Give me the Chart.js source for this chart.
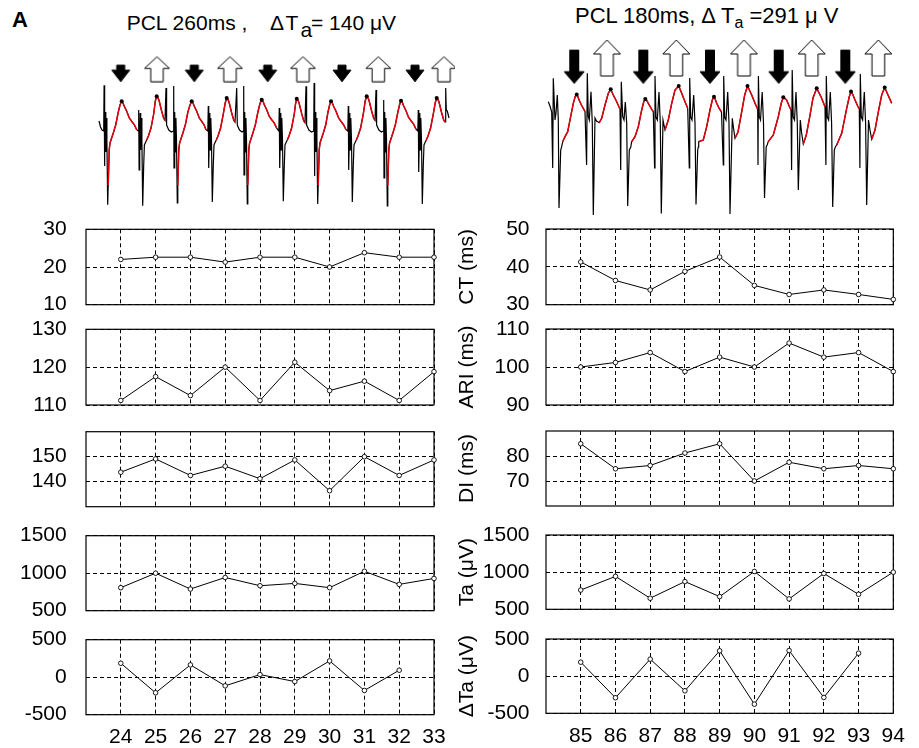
<!DOCTYPE html>
<html><head><meta charset="utf-8">
<script src="https://cdn.jsdelivr.net/npm/chart.js@4.4.0/dist/chart.umd.min.js"></script>
<style>
html,body{margin:0;padding:0;background:#fff;}
body{width:919px;height:748px;position:relative;overflow:hidden;font-family:"Liberation Sans",Arial,sans-serif;color:#000;}
canvas{position:absolute;}
.t{position:absolute;white-space:pre;font-size:21px;line-height:21px;}
</style></head><body>
<div class="t" style="left:12px;top:8.6px;font-weight:bold;font-size:22px;">A</div>
<div class="t" style="left:126.7px;top:12.2px;">PCL 260ms ,</div>
<div class="t" style="left:270px;top:12.2px;letter-spacing:1.5px;">ΔT</div>
<div class="t" style="left:300.5px;top:18.9px;">a</div>
<div class="t" style="left:311px;top:12.2px;">= 140 μV</div>
<div class="t" style="left:575px;top:4.7px;font-size:22px;line-height:22px;">PCL 180ms, Δ T<span style="font-size:16px;position:relative;top:5px;">a</span> =291 μ V</div>
<script>
// ---------- data ----------
const beatsLeft  = [24, 25, 26, 27, 28, 29, 30, 31, 32, 33];
const beatsRight = [85, 86, 87, 88, 89, 90, 91, 92, 93, 94];

const ctLeft  = [22, 22.6, 22.6, 21.3, 22.6, 22.6, 20, 23.8, 22.6, 22.6];
const ariLeft = [111.2, 117.5, 112.5, 120, 111.2, 121.3, 113.8, 116.3, 111.2, 118.8];
const diLeft  = [143.8, 149.1, 142.5, 146.2, 141.2, 148.7, 136.4, 150, 142.5, 148.7];
const taLeft  = [807, 1000, 789, 943, 833, 864, 807, 1026, 851, 930];
const dtaLeft = [186, -208, 164, -115, 35, -58, 217, -177, 93];

const ctRight  = [41.3, 36.4, 33.9, 38.8, 42.6, 35.1, 32.7, 33.9, 32.7, 31.4];
const ariRight = [100, 101.2, 103.8, 98.8, 102.6, 100, 106.3, 102.6, 103.8, 98.8];
const diRight  = [84.9, 74.9, 76.2, 81.2, 84.9, 70, 77.5, 74.9, 76.2, 74.9];
const taRight  = [759, 943, 649, 873, 671, 1009, 640, 982, 702, 1000];
const dtaRight = [188, -291, 229, -197, 341, -377, 345, -287, 309];

const ticksCtLeft = [10, 20, 30], ticksAriLeft = [110, 120, 130], ticksDiLeft = [140, 150];
const ticksCtRight = [30, 40, 50], ticksAriRight = [90, 100, 110], ticksDiRight = [70, 80];
const ticksTa = [500, 1000, 1500], ticksDta = [-500, 0, 500];
const titlesRight = ['CT (ms)', 'ARI (ms)', 'DI (ms)', 'Ta (μV)', 'ΔTa (μV)'];

// electrogram traces: [sample, amplitude, flag] flag 1 = T wave (red), 2 = T peak
const ecgLeft = [
[0,29,0],[1.5,23,0],[3,20,0],
[4.7,19,0],[5.1,64.7,0],[5.4,-16,0],[5.9,10,0],[6.3,38,0],[6.8,-2,0],[7.3,32,0],[7.9,10,0],[8.7,-54.7,0],
[9.2,-35,1],[10.2,0,1],[11,7,1],[12,10,1],[14.3,17,1],[16.7,25,1],[19.3,38,1],[21,45,1],[22.7,48.7,2],[24,47,1],[25.3,43.7,1],[27.7,38.7,1],[30.3,32,1],[32.7,28.7,1],[35.3,25.3,1],[37.7,20.3,1],
[39.2,19,0],[39.7,40,0],[40.1,-20,0],[40.7,10,0],[41.2,37,0],[41.7,0,0],[42.2,32,0],[42.9,10,0],[43.7,-55.7,0],[44.7,-15,0],[45.4,5,0],[46.7,8,0],
[47.7,10,1],[49.4,14,1],[52,22,1],[54.7,36,1],[56.3,49,1],[57.7,53.7,2],[59,52,1],[60,49.7,1],[62.7,38.7,1],[64.7,31.7,1],[66,29.7,1],
[67,62,0],[67.6,25,0],[69.8,20,0],[72.3,18,0],
[74.3,19,0],[74.7,64,0],[75,-18,0],[75.5,10,0],[75.9,38,0],[76.4,-2,0],[76.9,32,0],[77.5,10,0],[78.3,-53,0],
[78.8,-35,1],[79.8,0,1],[80.6,7,1],[81.6,10,1],[83.9,17,1],[86.3,25,1],[88.9,38,1],[91,45,1],[92.7,48.7,2],[94,47,1],[95.3,43.7,1],[97.7,38.7,1],[100.3,32,1],[102.7,28.7,1],[105,25.3,1],[107,20.3,1],
[108.8,19,0],[109.3,44,0],[109.7,-18,0],[110.3,10,0],[110.8,37,0],[111.3,0,0],[111.8,32,0],[112.5,10,0],[113.3,-52,0],[114.3,-15,0],[115,5,0],[116.3,8,0],
[117.3,10,1],[119,14,1],[121.6,22,1],[124.3,36,1],[126.2,47,1],[127.7,52,2],[129,50.5,1],[130,48,1],[132.7,37,1],[134.7,30,1],[136,28,1],
[137.7,62,0],[138.3,25,0],[140.5,20,0],[143,18,0],
[144.3,19,0],[144.7,64,0],[145,-25,0],[145.5,10,0],[145.9,38,0],[146.4,-2,0],[146.9,32,0],[147.5,10,0],[148.3,-54,0],
[148.8,-35,1],[149.8,0,1],[150.6,7,1],[151.6,10,1],[153.9,17,1],[156.3,25,1],[158.9,38,1],[161,46.5,1],[162.7,50.3,2],[164,48.6,1],[165.3,45.3,1],[167.7,40.3,1],[170.3,33.6,1],[172.7,30.3,1],[175.3,26.9,1],[177.7,21.9,1],
[179.8,19,0],[180.3,42,0],[180.7,-18,0],[181.3,10,0],[181.8,37,0],[182.3,0,0],[182.8,32,0],[183.5,10,0],[184.3,-51.3,0],[185.3,-15,0],[186,5,0],[187.3,8,0],
[188.3,10,1],[190,14,1],[192.6,22,1],[195.3,36,1],[196.5,46,1],[197.7,51.3,2],[199,49.8,1],[200,47.3,1],[202.7,36.3,1],[204.7,29.3,1],[206,27.3,1],
[207,63.7,0],[207.6,25,0],[209.9,20,0],[212.4,18,0],
[214.7,19,0],[215.1,67,0],[215.4,-26,0],[215.9,10,0],[216.3,38,0],[216.8,-2,0],[217.3,32,0],[217.9,10,0],[218.7,-54,0],
[219.2,-35,1],[220.2,0,1],[221,7,1],[222,10,1],[224.3,17,1],[226.7,25,1],[229,38,1],[230.6,45,1],[232,48.7,2],[233.3,47,1],[234.6,43.7,1],[237,38.7,1],[239.6,32,1],[242,28.7,1],[244.6,25.3,1],[247,20.3,1],
[248.8,19,0],[249.3,44,0],[249.7,-20,0],[250.3,10,0],[250.8,37,0],[251.3,0,0],[251.8,32,0],[252.5,10,0],[253.3,-52,0],[254.3,-15,0],[255,5,0],[256.3,8,0],
[257.3,10,1],[259,14,1],[261.6,22,1],[264.3,36,1],[266.2,49,1],[267.7,53.7,2],[269,52,1],[270,49.7,1],[272.7,38.7,1],[274.7,31.7,1],[276,29.7,1],
[277,60,0],[277.6,25,0],[279.9,20,0],[282.4,18,0],
[284.3,19,0],[284.7,50,0],[285,-28,0],[285.5,10,0],[285.9,38,0],[286.4,-2,0],[286.9,32,0],[287.5,10,0],[288.3,-56,0],
[288.8,-35,1],[289.8,0,1],[290.6,7,1],[291.6,10,1],[293.9,17,1],[296.3,25,1],[298.9,38,1],[300.6,45.5,1],[302,49.3,2],[303.3,47.6,1],[304.6,44.3,1],[307,39.3,1],[309.6,32.6,1],[312,29.3,1],[314.6,25.9,1],[317,20.9,1],
[318.8,19,0],[319.3,40,0],[319.7,-22,0],[320.3,10,0],[320.8,37,0],[321.3,0,0],[321.8,32,0],[322.5,10,0],[323.3,-54,0],[324.3,-15,0],[325,5,0],[326.3,8,0],
[327.3,10,1],[329,14,1],[331.6,22,1],[334.3,36,1],[336.2,47,1],[337.7,52,2],[339,50.5,1],[340,48,1],[342.7,37,1],[344.7,30,1],[346,28,1],
[346.7,62,0],[347.3,40,0],[348.3,39,0],[350,32,0]
];

const ecgRight = [
[0.3,48.3,0],[2,44,0],[3.7,38,0],
[4.7,-18,0],[5.3,71.7,0],[7,30,0],[8,36.7,0],[9.3,55,0],[10.3,30,0],[11,-58,0],
[12.7,0,0],[13.7,3.3,0],[14.7,8.3,1],[17,13.3,1],[19.7,18.3,1],[22,30,1],[25.3,46.7,1],[27.2,53.5,1],[28.7,55.5,2],[30,53,1],[31.3,49.5,1],[33.7,44.5,1],[37,38.5,1],
[38.6,-15,0],[39.3,76.7,0],[40.3,33.3,0],[41.3,30,0],[43,58.3,0],[44.3,26.7,0],[45.3,-65,0],
[47,32,0],[48.5,29,0],[51.3,27.3,1],[53.7,31.7,1],[57,45,1],[60.3,56.7,1],[62.7,60.7,2],[65.3,55,1],[68.7,48.3,1],[72,40.7,1],
[72.7,-20,0],[73.3,68.3,0],[74.7,33.3,0],[76,30,0],[77.3,48,0],[78.7,26.7,0],[79.7,-56,0],
[81.3,0,0],[82.7,2.7,0],[83.7,8.3,1],[87,13.3,1],[90.3,23.3,1],[93.7,40,1],[95.8,48.5,1],[97.3,51,2],[98.8,49.5,1],[100.3,46.7,1],[103.7,40.7,1],[105.3,38.3,1],
[106.6,-18,0],[107,74,0],[108,33,0],[109.3,30,0],[111,58,0],[112.3,26.7,0],[113.3,-63.5,0],
[115,30,0],[116,25,0],[117,20,1],[120.3,30,1],[123.7,46.7,1],[127,60,1],[130.7,64,2],[133.7,56.7,1],[137,48.3,1],[139.7,41.7,1],
[141.3,-18,0],[141.7,72,0],[142.7,33,0],[144,30,0],[145.7,55,0],[147,26.7,0],[148,-54.5,0],
[149.7,0,0],[150.3,3,0],[150.7,8.3,1],[155.3,10,1],[158.7,23.3,1],[162,40,1],[164.3,50,1],[166,53.3,2],[167.3,50.5,1],[168.6,47,1],[171,42,1],[173.5,38,1],
[175.3,-15,0],[175.7,74,0],[176.7,33,0],[178,30,0],[179.7,58,0],[181,26.7,0],[182,-64,0],
[184.3,31.7,0],[185.5,22,0],[187,11.7,1],[190,18,1],[193.3,36,1],[196.7,55,1],[199.5,64,2],[203.7,55,1],[207,46.7,1],[209.7,40.7,1],
[210,-15,0],[210.4,74,0],[211.3,33,0],[212.5,30,0],[214.2,58,0],[215.5,26.7,0],[216.5,-48,0],
[218.2,3.3,0],[219.2,5,0],[220.2,8.3,1],[225.3,15,1],[230.3,33.3,1],[233.3,47,1],[235.3,52.7,2],[238.6,50,1],[241.5,43.3,1],[243,40,1],
[243.6,-20,0],[244.2,80,0],[245.2,33,0],[246.5,30,0],[248,58,0],[249.3,26.7,0],[250.3,-40,0],
[252.3,30,0],[253.5,18,0],[255.3,6,1],[258.3,15,1],[261.7,33,1],[265,52,1],[268.7,61.7,2],[273,53.3,1],[277,43.3,1],
[277.9,-15,0],[278.3,74,0],[279.3,33,0],[280.6,30,0],[282.3,58,0],[283.6,26.7,0],[284.7,-57,0],
[286.3,0,0],[287.3,3,0],[288.7,5,1],[293.7,16.7,1],[298.7,41.7,1],[301.2,53,1],[303,58.5,2],[305,55,1],[307,50,1],[310,43.3,1],[311.3,41,1],
[311.9,-18,0],[312.3,76,0],[313.3,33,0],[314.6,30,0],[316.3,58,0],[317.6,26.7,0],[318.7,-55,0],
[320.5,30,0],[322,20,0],[323.7,10.7,1],[327,20,1],[330.3,38,1],[333.7,55,1],[336.7,62.5,2],[340,55,1],[343.7,46.7,1]
];

// T-wave markers (sample positions): down = small T, up = large T
const arrowsDownLeft  = [21.7, 95.3, 168.7, 243, 316];
const arrowsUpLeft    = [58, 131, 204, 279.3, 345];
const arrowsDownRight = [26.2, 95.3, 162, 230.7, 297.3];
const arrowsUpRight   = [59, 128.3, 196, 263.7, 330.3];

// ---------- drawing ----------
Chart.defaults.font.family = '"Liberation Sans", Arial, sans-serif';
Chart.defaults.color = '#000';
Chart.defaults.animation = false;

const framePlugin = {
  id: 'frame',
  beforeDatasetsDraw(chart) {
    const {ctx, chartArea: a} = chart;
    ctx.save();
    ctx.setLineDash([]);
    ctx.strokeStyle = '#000';
    ctx.lineWidth = 1.2;
    ctx.strokeRect(a.left, a.top, a.right - a.left, a.bottom - a.top);
    ctx.restore();
  }
};

function makeCanvas(left, top, w, h) {
  const c = document.createElement('canvas');
  c.width = w; c.height = h;
  c.style.left = left + 'px'; c.style.top = top + 'px';
  c.style.width = w + 'px'; c.style.height = h + 'px';
  document.body.appendChild(c);
  return c;
}

function panel(cfg) {
  const cTop = Math.floor(cfg.plotTop) - 14;
  const cH = cfg.bottom ? 748 - cTop : Math.ceil(cfg.plotTop + cfg.plotH) + 14 - cTop;
  const cv = makeCanvas(cfg.cLeft, cTop, cfg.cW, cH);
  const xAxisH = cTop + cH - (cfg.plotTop + cfg.plotH);
  new Chart(cv, {
    type: 'line',
    data: { datasets: [{
      data: cfg.ys.map((y, i) => ({x: cfg.xs[i], y})),
      borderColor: '#000', borderWidth: 1, tension: 0, clip: false,
      pointRadius: 2.3, pointBorderWidth: 0.9, pointBackgroundColor: '#fff', pointBorderColor: '#000'
    }]},
    options: {
      responsive: false, devicePixelRatio: 1, animation: false,
      layout: { autoPadding: false, padding: { left: 0, bottom: 0,
        top: cfg.plotTop - cTop, right: cfg.cLeft + cfg.cW - (cfg.plotLeft + cfg.plotW) } },
      plugins: { legend: {display: false}, tooltip: {enabled: false} },
      scales: {
        x: {
          type: 'linear', min: cfg.xs[0] - 1, max: cfg.xs[cfg.xs.length - 1],
          afterBuildTicks(s) { s.ticks = cfg.xs.map(v => ({value: v})); },
          afterFit(s) { s.height = xAxisH; },
          grid: { color: '#000', lineWidth: 1, drawTicks: false },
          border: { display: false, dash: [4, 3] },
          ticks: { display: !!cfg.bottom, padding: 10, font: {size: 21}, color: '#000',
                   autoSkip: false, maxRotation: 0, callback: v => String(v) }
        },
        y: {
          min: cfg.yMin, max: cfg.yMax,
          afterBuildTicks(s) { s.ticks = cfg.yTicks.map(v => ({value: v})); },
          afterFit(s) { s.width = cfg.plotLeft - cfg.cLeft; },
          grid: { color: '#000', lineWidth: 1, drawTicks: true, tickLength: cfg.tickPad,
                  tickColor: 'rgba(0,0,0,0)' },
          border: { display: false, dash: [4, 3] },
          ticks: { padding: 0, font: {size: 21}, color: '#000', callback: v => String(v) },
          title: { display: !!cfg.title, text: cfg.title || '', font: {size: 21}, color: '#000',
                   padding: {top: 0, bottom: 0} }
        }
      }
    },
    plugins: [framePlugin]
  });
}

const leftRows  = [[229.3, 75.4], [329.3, 75.7], [431.7, 75], [535.7, 75], [639.7, 75]];
const rightRows = [[229, 75.7], [329, 76], [431, 75], [535, 74.3], [639, 74.3]];
const leftSeries = [
  [ctLeft, 10, 30, ticksCtLeft], [ariLeft, 110, 130, ticksAriLeft], [diLeft, 130, 160, ticksDiLeft],
  [taLeft, 500, 1500, ticksTa], [dtaLeft, -500, 500, ticksDta]];
const rightSeries = [
  [ctRight, 30, 50, ticksCtRight], [ariRight, 90, 110, ticksAriRight], [diRight, 60, 90, ticksDiRight],
  [taRight, 500, 1500, ticksTa], [dtaRight, -500, 500, ticksDta]];

leftSeries.forEach((s, i) => panel({
  cLeft: 0, cW: 460, plotLeft: 86, plotW: 348, plotTop: leftRows[i][0], plotH: leftRows[i][1],
  xs: beatsLeft, ys: s[0], yMin: s[1], yMax: s[2], yTicks: s[3], tickPad: 19.3, bottom: i === 4
}));
rightSeries.forEach((s, i) => panel({
  cLeft: 455, cW: 464, plotLeft: 546, plotW: 347.3, plotTop: rightRows[i][0], plotH: rightRows[i][1],
  xs: beatsRight, ys: s[0], yMin: s[1], yMax: s[2], yTicks: s[3], tickPad: 16.5, bottom: i === 4,
  title: titlesRight[i]
}));

function arrowImg(w, h, shaftW, headH, dir, fill) {
  const c = document.createElement('canvas');
  c.width = Math.ceil(w + 2); c.height = Math.ceil(h + 2);
  const g = c.getContext('2d');
  g.translate((c.width - w) / 2, (c.height - h) / 2);
  const cx = w / 2, s = shaftW / 2;
  g.beginPath();
  if (dir === 'down') {
    g.moveTo(cx - s, 0); g.lineTo(cx + s, 0); g.lineTo(cx + s, h - headH); g.lineTo(w, h - headH);
    g.lineTo(cx, h); g.lineTo(0, h - headH); g.lineTo(cx - s, h - headH);
  } else {
    g.moveTo(cx, 0); g.lineTo(w, headH); g.lineTo(cx + s, headH); g.lineTo(cx + s, h);
    g.lineTo(cx - s, h); g.lineTo(cx - s, headH); g.lineTo(0, headH);
  }
  g.closePath();
  g.fillStyle = fill; g.fill();
  g.lineWidth = 1; g.strokeStyle = '#000'; g.stroke();
  return c;
}

function ecg(cfg) {
  const cv = makeCanvas(cfg.left, 36, 360, 184);
  const pts = cfg.trace;
  new Chart(cv, {
    type: 'line',
    data: { datasets: [
      { data: pts.map(p => ({x: p[0], y: p[1]})), borderColor: '#000', borderWidth: 1.2,
        pointRadius: 0, clip: false, tension: 0, order: 3 },
      { data: pts.map(p => ({x: p[0], y: p[2] ? p[1] : null})), borderColor: '#e3000f', borderWidth: 1.5,
        pointRadius: 0, clip: false, tension: 0, spanGaps: false, order: 2 },
      { data: pts.filter(p => p[2] === 2).map(p => ({x: p[0], y: p[1]})), showLine: false,
        pointRadius: 2, pointBackgroundColor: '#000', pointBorderWidth: 0, clip: false, order: 1 },
      { data: cfg.downX.map(x => ({x, y: cfg.downY})), showLine: false, pointStyle: cfg.downImg,
        pointRadius: 5, clip: false, order: 0 },
      { data: cfg.upX.map(x => ({x, y: cfg.upY})), showLine: false, pointStyle: cfg.upImg,
        pointRadius: 5, clip: false, order: 0 }
    ]},
    options: {
      responsive: false, devicePixelRatio: 1, animation: false,
      layout: { autoPadding: false, padding: 0 },
      plugins: { legend: {display: false}, tooltip: {enabled: false} },
      scales: {
        x: { type: 'linear', display: false, min: cfg.xMin, max: cfg.xMin + 360 },
        y: { display: false, min: -70, max: 114 }
      }
    }
  });
}

ecg({ left: 95, xMin: -4, trace: ecgLeft,
  downX: arrowsDownLeft, downY: 76.6, downImg: arrowImg(18, 16.7, 8, 11.7, 'down', '#000'),
  upX: arrowsUpLeft, upY: 80.8, upImg: arrowImg(25, 25, 12.5, 11.7, 'up', '#fff') });
ecg({ left: 540, xMin: -8, trace: ecgRight,
  downX: arrowsDownRight, downY: 83.3, downImg: arrowImg(20, 33.3, 9, 11.7, 'down', '#000'),
  upX: arrowsUpRight, upY: 92, upImg: arrowImg(27, 36, 12.7, 14, 'up', '#fff') });
</script>
</body></html>
